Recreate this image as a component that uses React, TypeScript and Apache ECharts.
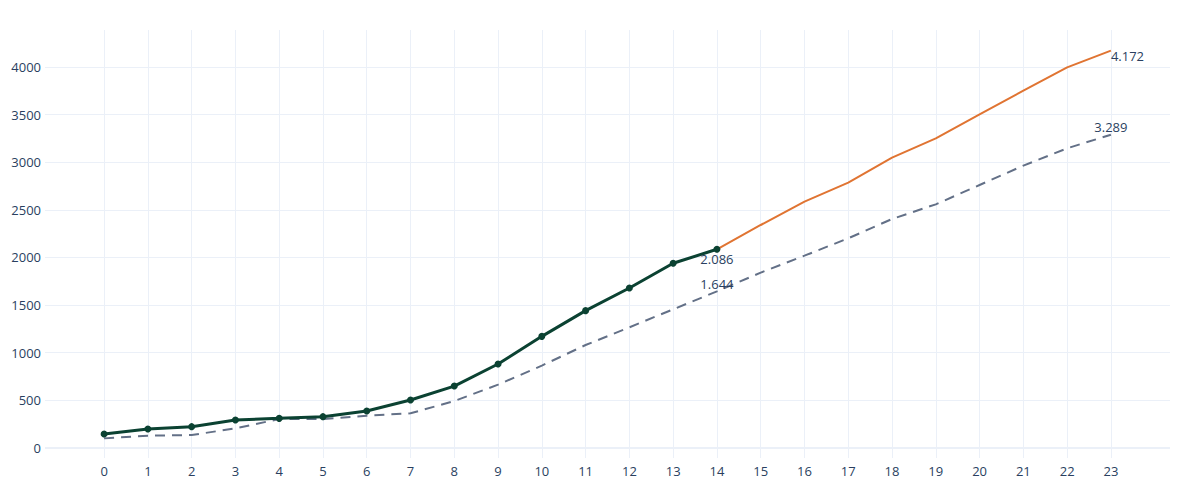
import React, { useEffect, useRef } from "react";
import * as echarts from "echarts";

const xTicks = [0, 1, 2, 3, 4, 5, 6, 7, 8, 9, 10, 11, 12, 13, 14, 15, 16, 17, 18, 19, 20, 21, 22, 23];
const yTicks = [0, 500, 1000, 1500, 2000, 2500, 3000, 3500, 4000];

const actualX = [0, 1, 2, 3, 4, 5, 6, 7, 8, 9, 10, 11, 12, 13, 14];
const actualY = [147, 199, 224, 294, 311, 329, 388, 504, 650, 882, 1172, 1442, 1680, 1939, 2086];

const forecastX = [14, 15, 16, 17, 18, 19, 20, 21, 22, 23];
const forecastY = [2086, 2341, 2586, 2786, 3048, 3251, 3503, 3751, 3996, 4172];

const baselineX = xTicks;
const baselineY = [101, 129, 136, 206, 304, 304, 339, 364, 493, 665, 865, 1081, 1267, 1456, 1644, 1841, 2019, 2201, 2404, 2558, 2761, 2964, 3146, 3289];

const fmt = (v: number) => String(Math.round(v)).replace(/\B(?=(\d{3})+(?!\d))/g, ".");

const TEXT = "#2a3f5f";
const GRID = "#ebf0f8";
const FONT = "'Open Sans', verdana, arial, sans-serif";

export default function App() {
  const ref = useRef<HTMLDivElement>(null);
  useEffect(() => {
    if (!ref.current) return;
    const chart = echarts.init(ref.current, undefined, { renderer: "svg" });

    const labelStyle = (position: any, distance: number, offset?: number[]) => ({
      show: true,
      position,
      distance,
      offset,
      color: TEXT,
      fontSize: 13,
      fontFamily: FONT,
      formatter: (p: any) => fmt(p.value[1]),
    });

    const actualData = actualX.map((x, i) => {
      const item: any = { value: [x, actualY[i]] };
      if (i === actualX.length - 1) item.label = labelStyle("bottom", 0);
      return item;
    });
    const forecastData = forecastX.map((x, i) => {
      const item: any = { value: [x, forecastY[i]] };
      if (i === forecastX.length - 1) {
        item.symbol = "circle";
        item.symbolSize = 0.01;
        item.label = labelStyle("right", 0, [0, 5]);
      }
      return item;
    });
    const baselineData = baselineX.map((x, i) => {
      const item: any = { value: [x, baselineY[i]] };
      if (x === 14 || x === 23) {
        item.symbol = "circle";
        item.symbolSize = 0.01;
        item.label = labelStyle("top", 1);
      }
      return item;
    });

    chart.setOption({
      animation: false,
      backgroundColor: "#ffffff",
      textStyle: { fontFamily: FONT },
      grid: { left: 45, right: 30, top: 30, bottom: 42, containLabel: false },
      xAxis: {
        type: "value",
        min: -1.35,
        max: 24.35,
        axisLine: { show: false },
        axisTick: { show: false, customValues: xTicks },
        axisLabel: {
          customValues: xTicks,
          formatter: (v: number) => String(v),
          color: TEXT,
          fontSize: 13,
          fontFamily: FONT,
          margin: 6,
        },
        splitLine: { show: true, lineStyle: { color: GRID, width: 1 } },
      },
      yAxis: {
        type: "value",
        min: -105,
        max: 4388,
        axisLine: { show: false },
        axisTick: { show: false, customValues: yTicks },
        axisLabel: {
          customValues: yTicks,
          formatter: (v: number) => String(v),
          color: TEXT,
          fontSize: 13,
          fontFamily: FONT,
          margin: 4,
        },
        splitLine: { show: true, lineStyle: { color: GRID, width: 1 } },
      },
      series: [
        {
          name: "baseline",
          type: "line",
          data: baselineData,
          symbol: "none",
          showSymbol: true,
          lineStyle: { color: "#637087", width: 2, type: [10, 7] },
          itemStyle: { color: "#637087" },
          z: 2,
          markLine: {
            silent: true,
            symbol: "none",
            label: { show: false },
            lineStyle: { color: GRID, width: 2, type: "solid" },
            data: [{ yAxis: 0 }],
            z: 1,
          },
        },
        {
          name: "forecast",
          type: "line",
          data: forecastData,
          symbol: "none",
          showSymbol: true,
          lineStyle: { color: "#e07432", width: 2 },
          itemStyle: { color: "#e07432" },
          z: 3,
        },
        {
          name: "actual",
          type: "line",
          data: actualData,
          symbol: "circle",
          symbolSize: 7,
          showSymbol: true,
          lineStyle: { color: "#0b4232", width: 3 },
          itemStyle: { color: "#0b4232" },
          z: 4,
        },
      ],
    });
    return () => chart.dispose();
  }, []);

  return (
    <div
      ref={ref}
      style={{ position: "fixed", left: 0, top: 0, width: 1200, height: 500, background: "#fff" }}
    />
  );
}
